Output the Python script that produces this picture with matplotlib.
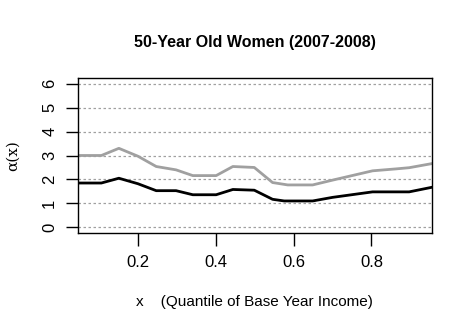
import matplotlib
matplotlib.use("Agg")
import matplotlib.pyplot as plt

plt.rcParams['font.family'] = ['Liberation Sans', 'DejaVu Sans']

title = "50-Year Old Women (2007-2008)"

# quantile grid points and estimated alpha(x) curves
x_black = [0.046, 0.106, 0.151, 0.200, 0.247, 0.298, 0.341, 0.401, 0.444,
           0.499, 0.546, 0.576, 0.649, 0.700, 0.803, 0.897, 0.955]
y_black = [1.85, 1.85, 2.05, 1.82, 1.53, 1.53, 1.36, 1.36, 1.58,
           1.55, 1.17, 1.10, 1.10, 1.25, 1.48, 1.48, 1.67]

x_gray = [0.046, 0.106, 0.151, 0.200, 0.247, 0.298, 0.341, 0.401, 0.444,
          0.499, 0.546, 0.585, 0.649, 0.700, 0.803, 0.863, 0.897, 0.955]
y_gray = [3.00, 3.00, 3.30, 2.97, 2.54, 2.40, 2.16, 2.16, 2.54,
          2.50, 1.87, 1.77, 1.77, 1.97, 2.36, 2.44, 2.49, 2.66]

xticks = [0.2, 0.4, 0.6, 0.8]
yticks = [0, 1, 2, 3, 4, 5, 6]

fig = plt.figure(figsize=(4.72, 3.31), dpi=100)
ax = fig.add_axes([0.1653, 0.296, 0.7493, 0.4684])

for y in yticks:
    ax.axhline(y, color='#a0a0a0', lw=0.9, ls=(0, (2, 2)), zorder=1)

ax.plot(x_gray, y_gray, color='#a0a0a0', lw=2, zorder=2)
ax.plot(x_black, y_black, color='black', lw=2, zorder=3)

ax.set_xlim(0.046, 0.955)
ax.set_ylim(-0.24, 6.24)
ax.set_xticks(xticks)
ax.set_xticklabels([f"{v:.1f}" for v in xticks])
ax.set_yticks(yticks)
ax.set_yticklabels([str(v) for v in yticks], rotation=90, va='center')
ax.tick_params(direction='out', length=9, width=1, labelsize=12, pad=7)
ax.tick_params(axis='y', pad=6)
for s in ax.spines.values():
    s.set_linewidth(1)

ax.set_title(title, fontsize=11.5, fontweight='bold', pad=22)
ax.set_xlabel("x    (Quantile of Base Year Income)", fontsize=11, labelpad=18)
ax.set_ylabel("α(x)", fontsize=11, labelpad=16, family=['DejaVu Serif'])

fig.savefig("out.png", dpi=100)
